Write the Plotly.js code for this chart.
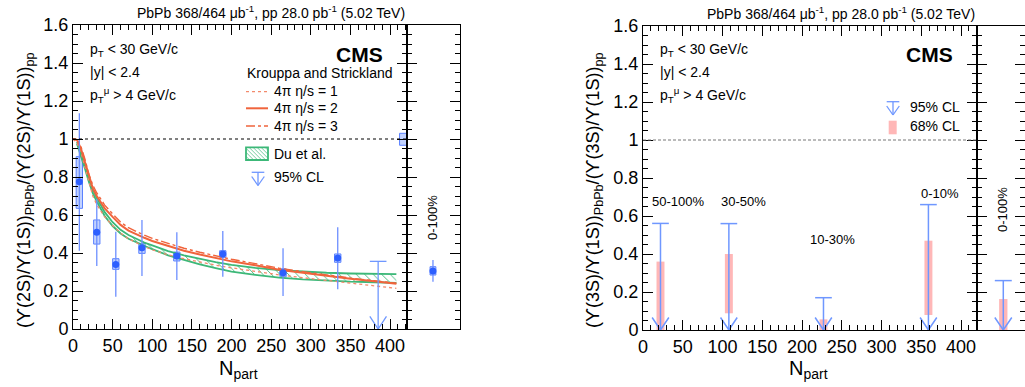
<!DOCTYPE html>
<html><head><meta charset="utf-8">
<script src="https://cdn.plot.ly/plotly-3.0.1.min.js"></script>
<style>body{margin:0;background:#fff}</style>
</head><body><div id="chart" style="width:1025px;height:387px"></div>
<script>
// ---------- Left panel: (Y(2S)/Y(1S))_PbPb / (Y(2S)/Y(1S))_pp vs Npart ----------
const npart2S   = [8, 30, 54, 87, 131, 189, 265, 334];
const ratio2S   = [0.775, 0.509, 0.340, 0.428, 0.384, 0.395, 0.296, 0.374];
const stat2SUp  = [1.135, 0.684, 0.512, 0.574, 0.509, 0.516, 0.425, 0.535];
const stat2SLo  = [0.412, 0.332, 0.170, 0.279, 0.258, 0.275, 0.174, 0.209];
const syst2SUp  = [0.907, 0.574, 0.370, 0.451, 0.405, 0.412, 0.317, 0.395];
const syst2SLo  = [0.635, 0.447, 0.314, 0.398, 0.358, 0.377, 0.275, 0.351];
const limit2SNpart = [385];
const limit2S95    = [0.356];
// integrated 0-100 %
const int2S       = [0.305];
const int2SStatUp = [0.363];
const int2SStatLo = [0.249];
const int2SSystUp = [0.328];
const int2SSystLo = [0.284];
// global (pp) uncertainty at unity
const globalUncLo = [0.967];
const globalUncHi = [1.030];

// Krouppa and Strickland
const ksNpart = [0,5,10,15,20,25,30,40,50,60,70,80,90,100,120,140,160,180,200,230,260,290,320,350,380,408];
const ksEta1  = [1.0,0.98,0.93,0.85,0.77,0.70,0.655,0.59,0.545,0.505,0.475,0.452,0.433,0.417,0.39,0.37,0.352,0.336,0.322,0.303,0.285,0.27,0.255,0.241,0.228,0.214];
const ksEta2  = [1.0,0.995,0.95,0.88,0.80,0.74,0.70,0.635,0.59,0.548,0.518,0.497,0.480,0.463,0.436,0.412,0.392,0.374,0.356,0.335,0.312,0.296,0.279,0.264,0.251,0.238];
const ksEta3  = [1.0,0.997,0.96,0.895,0.815,0.757,0.716,0.652,0.606,0.563,0.533,0.512,0.494,0.477,0.450,0.425,0.404,0.385,0.367,0.344,0.320,0.302,0.284,0.268,0.254,0.241];
// Du et al. band
const duNpart = [5,10,15,20,25,30,40,50,60,70,80,90,100,120,140,160,180,200,230,260,290,320,350,380,408];
const duUpper = [0.985,0.93,0.86,0.79,0.735,0.69,0.615,0.562,0.522,0.495,0.475,0.455,0.44,0.41,0.388,0.368,0.352,0.338,0.322,0.31,0.302,0.296,0.292,0.29,0.289];
const duLower = [0.975,0.915,0.845,0.775,0.715,0.67,0.595,0.542,0.503,0.475,0.457,0.437,0.42,0.388,0.362,0.34,0.321,0.302,0.285,0.27,0.261,0.254,0.249,0.246,0.243];

// ---------- Right panel: Y(3S) double ratio upper limits ----------
const npart3S    = [22, 108, 227, 359];
const cent3S     = ['50-100%', '30-50%', '10-30%', '0-10%'];
const limit3S95  = [0.561, 0.560, 0.170, 0.660];
const cl68Lo3S   = [0.0, 0.088, 0.0, 0.079];
const cl68Hi3S   = [0.360, 0.400, 0.056, 0.470];
const int3S95    = [0.260];
const int3S68Lo  = [0.0];
const int3S68Hi  = [0.163];

// ---------- styling / layout helpers ----------
const W = 1025, H = 387;
const P = x => x / W, Q = y => 1 - y / H;
const FONT = 'Liberation Sans, Arial, sans-serif';
const BLUE = '#2d5fff', BLUE_ERR = '#6d8fff', BLUE_LIM = '#6f97ff';
const ORANGE = '#f0643c', GREEN = '#3cb878', PINK = 'rgba(255,170,170,0.85)';
const sideX = [0.49];

function limitPath(xs, lims, dx, h) {
  const X = [], Y = [];
  xs.forEach((x, i) => {
    const L = lims[i];
    X.push(x - dx, x + dx, null, x, x, null, x - dx, x, x + dx, null);
    Y.push(L, L, null, L, 0, null, h, 0, h, null);
  });
  return {x: X, y: Y};
}
const diff = (a, b) => a.map((v, i) => v - b[i]);

const traces = [];
// Du et al. band
traces.push({x: duNpart, y: duLower, mode: 'lines', line: {color: GREEN, width: 1.8}, xaxis: 'x', yaxis: 'y', hoverinfo: 'skip'});
traces.push({x: duNpart, y: duUpper, mode: 'lines', line: {color: GREEN, width: 1.8}, fill: 'tonexty',
  fillcolor: 'rgba(255,255,255,0)',
  fillpattern: {shape: '\\', fgcolor: GREEN, bgcolor: 'rgba(255,255,255,0)', size: 6, solidity: 0.15},
  xaxis: 'x', yaxis: 'y', hoverinfo: 'skip'});
// KS curves
traces.push({x: ksNpart, y: ksEta1, mode: 'lines', line: {color: '#f38a6c', width: 1.3, dash: 'dot'}, xaxis: 'x', yaxis: 'y'});
traces.push({x: ksNpart, y: ksEta3, mode: 'lines', line: {color: ORANGE, width: 1.4, dash: 'dashdot'}, xaxis: 'x', yaxis: 'y'});
traces.push({x: ksNpart, y: ksEta2, mode: 'lines', line: {color: ORANGE, width: 2}, xaxis: 'x', yaxis: 'y'});
// systematic boxes
traces.push({type: 'bar', x: npart2S, base: syst2SLo, y: diff(syst2SUp, syst2SLo), width: 8,
  marker: {color: 'rgba(120,155,255,0.45)', line: {color: '#5b82ff', width: 1}}, xaxis: 'x', yaxis: 'y'});
traces.push({type: 'bar', x: [416.5], base: globalUncLo, y: diff(globalUncHi, globalUncLo), width: 9,
  marker: {color: 'rgba(120,155,255,0.45)', line: {color: '#5b82ff', width: 1}}, xaxis: 'x', yaxis: 'y'});
// points
traces.push({x: npart2S, y: ratio2S, mode: 'markers', marker: {color: BLUE, size: 7},
  error_y: {type: 'data', symmetric: false, array: diff(stat2SUp, ratio2S), arrayminus: diff(ratio2S, stat2SLo), color: BLUE_ERR, thickness: 1.3, width: 0},
  xaxis: 'x', yaxis: 'y'});
// upper limit
const lp = limitPath(limit2SNpart, limit2S95, 10.5, 0.066);
traces.push({x: lp.x, y: lp.y, mode: 'lines', line: {color: BLUE_LIM, width: 1.3}, xaxis: 'x', yaxis: 'y'});
// integrated point (side)
traces.push({type: 'bar', x: sideX, base: int2SSystLo, y: diff(int2SSystUp, int2SSystLo), width: 0.11,
  marker: {color: 'rgba(120,155,255,0.45)', line: {color: '#5b82ff', width: 1}}, xaxis: 'x2', yaxis: 'y2'});
traces.push({x: sideX, y: int2S, mode: 'markers', marker: {color: BLUE, size: 7},
  error_y: {type: 'data', symmetric: false, array: diff(int2SStatUp, int2S), arrayminus: diff(int2S, int2SStatLo), color: BLUE_ERR, thickness: 1.3, width: 0},
  xaxis: 'x2', yaxis: 'y2'});

// right panel
traces.push({type: 'bar', x: npart3S, base: cl68Lo3S, y: diff(cl68Hi3S, cl68Lo3S), width: 10,
  marker: {color: PINK, line: {width: 0}}, xaxis: 'x3', yaxis: 'y3'});
const lp3 = limitPath(npart3S, limit3S95, 10.5, 0.066);
traces.push({x: lp3.x, y: lp3.y, mode: 'lines', line: {color: BLUE_LIM, width: 1.5}, xaxis: 'x3', yaxis: 'y3'});
const sideX3 = [0.496];
traces.push({type: 'bar', x: sideX3, base: int3S68Lo, y: diff(int3S68Hi, int3S68Lo), width: 0.157,
  marker: {color: PINK, line: {width: 0}}, xaxis: 'x4', yaxis: 'y4'});
const lp4 = limitPath(sideX3, int3S95, 0.16, 0.066);
traces.push({x: lp4.x, y: lp4.y, mode: 'lines', line: {color: BLUE_LIM, width: 1.5}, xaxis: 'x4', yaxis: 'y4'});

// ---------- axes ----------
const tickFont = {family: FONT, size: 18, color: '#000'};
function mainX(dom, range, anchor) {
  return {domain: dom, range: range, anchor: anchor, tick0: 0, dtick: 50, ticks: 'inside', ticklen: 10, tickcolor: '#000',
    minor: {dtick: 10, ticks: 'inside', ticklen: 5, tickcolor: '#000'},
    showline: true, linecolor: '#000', linewidth: 1, mirror: 'ticks', showgrid: false, zeroline: false, tickfont: tickFont};
}
function mainY(dom, anchor, labels) {
  return {domain: dom, range: [0, 1.6], anchor: anchor, tick0: 0, dtick: 0.2, ticks: 'inside', ticklen: 10, tickcolor: '#000',
    minor: {dtick: 0.05, ticks: 'inside', ticklen: 5, tickcolor: '#000'},
    showline: true, linecolor: '#000', linewidth: 1, mirror: 'ticks', showgrid: false, zeroline: false,
    showticklabels: labels, tickfont: tickFont};
}
function sideXAx(dom, range, anchor) {
  return {domain: dom, range: range, anchor: anchor, showticklabels: false, ticks: '', showline: true, linecolor: '#000',
    linewidth: 1, mirror: true, showgrid: false, zeroline: false};
}
const yDomL = [1 - 329 / H, 1 - 25 / H];
const yDomR = [1 - 330 / H, 1 - 26 / H];

// ---------- shapes ----------
const shapes = [
  {type: 'line', xref: 'x', yref: 'y', x0: 0, x1: 421.4, y0: 1, y1: 1, line: {color: '#000', width: 1, dash: '3px,3px'}},
  {type: 'line', xref: 'x3', yref: 'y3', x0: 0, x1: 420, y0: 1, y1: 1, line: {color: '#777', width: 1, dash: '3px,2px'}},
];
// left legend line samples
[[91.7, 'dot', '#f38a6c'], [108.3, 'solid', ORANGE], [126, 'dashdot', ORANGE]].forEach(([y, d, c]) => {
  shapes.push({type: 'line', xref: 'paper', yref: 'paper', x0: P(246), x1: P(268), y0: Q(y), y1: Q(y), line: {color: c, width: d === 'solid' ? 2 : 1.3, dash: d}});
});
// Du et al. legend box with hatch
const bx0 = 246, bx1 = 268, by0 = 147.3, by1 = 160;
shapes.push({type: 'rect', xref: 'paper', yref: 'paper', x0: P(bx0), x1: P(bx1), y0: Q(by0), y1: Q(by1), line: {color: GREEN, width: 1.8}, fillcolor: 'rgba(0,0,0,0)'});
for (let a = bx0 - 13; a < bx1; a += 4) {
  const hgt = by1 - by0;
  const s = Math.max(0, bx0 - a), e = Math.min(hgt, bx1 - a);
  if (s < e) shapes.push({type: 'line', xref: 'paper', yref: 'paper', x0: P(a + s), y0: Q(by0 + s), x1: P(a + e), y1: Q(by0 + e), line: {color: GREEN, width: 0.7}});
}
function legendArrow(cx, top, tip, dx) {
  const hs = [];
  const L = {color: BLUE_LIM, width: 1.3};
  hs.push({type: 'line', xref: 'paper', yref: 'paper', x0: P(cx - dx), x1: P(cx + dx), y0: Q(top), y1: Q(top), line: L});
  hs.push({type: 'line', xref: 'paper', yref: 'paper', x0: P(cx), x1: P(cx), y0: Q(top), y1: Q(tip), line: L});
  hs.push({type: 'line', xref: 'paper', yref: 'paper', x0: P(cx - dx), x1: P(cx), y0: Q(tip - 9), y1: Q(tip), line: L});
  hs.push({type: 'line', xref: 'paper', yref: 'paper', x0: P(cx + dx), x1: P(cx), y0: Q(tip - 9), y1: Q(tip), line: L});
  return hs;
}
shapes.push(...legendArrow(258, 172.3, 185.5, 6.3));
shapes.push(...legendArrow(893, 101.7, 115, 6.3));
shapes.push({type: 'rect', xref: 'paper', yref: 'paper', x0: P(888.7), x1: P(896.7), y0: Q(120.7), y1: Q(134.3), line: {width: 0}, fillcolor: PINK});

// ---------- annotations ----------
const ann = [];
function txt(x, y, text, opts = {}) {
  ann.push(Object.assign({xref: 'paper', yref: 'paper', x: P(x), y: Q(y), text: text, showarrow: false,
    xanchor: 'left', yanchor: 'middle', font: {family: FONT, size: 14, color: '#000'}}, opts));
}
const lumi = 'PbPb 368/464 μb<sup>-1</sup>, pp 28.0 pb<sup>-1</sup> (5.02 TeV)';
txt(407, 12, lumi, {xanchor: 'right'});
txt(977, 13, lumi, {xanchor: 'right'});
[[88, 0], [658, 1]].forEach(([x0]) => {
  txt(x0, 50, 'p<sub>T</sub> < 30 GeV/c');
  txt(x0, 72, '|y| < 2.4');
  txt(x0, 95, 'p<sub>T</sub><sup>μ</sup> > 4 GeV/c');
});
txt(385, 54, '<b>CMS</b>', {xanchor: 'right', font: {family: FONT, size: 21, color: '#000'}});
txt(955, 54, '<b>CMS</b>', {xanchor: 'right', font: {family: FONT, size: 21, color: '#000'}});
txt(245, 72.5, 'Krouppa and Strickland');
txt(272, 91, '4π η/s = 1');
txt(272, 108.5, '4π η/s = 2');
txt(272, 126, '4π η/s = 3');
txt(272, 154, 'Du et al.');
txt(272, 177, '95% CL');
txt(908, 107, '95% CL');
txt(908, 126, '68% CL');
// rotated side labels
txt(432, 218, '0-100%', {xanchor: 'center', textangle: -90, font: {family: FONT, size: 13, color: '#000'}});
txt(1002, 210, '0-100%', {xanchor: 'center', textangle: -90, font: {family: FONT, size: 13, color: '#000'}});
// centrality labels (right panel) positioned in data coordinates
const centPos = [[44, 0.675], [127, 0.675], [238, 0.477], [373, 0.72]];
cent3S.forEach((c, i) => ann.push({xref: 'x3', yref: 'y3', x: centPos[i][0], y: centPos[i][1], text: c, showarrow: false,
  xanchor: 'center', yanchor: 'middle', font: {family: FONT, size: 13, color: '#000'}}));
// axis titles
txt(238, 369, 'N<sub>part</sub>', {xanchor: 'center', font: {family: FONT, size: 20, color: '#000'}});
txt(808, 369, 'N<sub>part</sub>', {xanchor: 'center', font: {family: FONT, size: 20, color: '#000'}});
txt(25, 191, '(ϒ(2S)/ϒ(1S))<sub>PbPb</sub>/(ϒ(2S)/ϒ(1S))<sub>pp</sub>', {xanchor: 'center', textangle: -90, font: {family: FONT, size: 18, color: '#000'}});
txt(594, 191, '(ϒ(3S)/ϒ(1S))<sub>PbPb</sub>/(ϒ(3S)/ϒ(1S))<sub>pp</sub>', {xanchor: 'center', textangle: -90, font: {family: FONT, size: 18, color: '#000'}});

const layout = {
  width: W, height: H, margin: {l: 0, r: 0, t: 0, b: 0}, paper_bgcolor: '#fff', plot_bgcolor: 'rgba(0,0,0,0)',
  showlegend: false, barmode: 'overlay', hovermode: false, font: {family: FONT, color: '#000'},
  xaxis: mainX([73 / W, 407 / W], [0, 421.4], 'y'),
  yaxis: mainY(yDomL, 'x', true),
  xaxis2: sideXAx([407 / W, 460 / W], [0, 1], 'y2'),
  yaxis2: mainY(yDomL, 'x2', false),
  xaxis3: mainX([643 / W, 977 / W], [0, 420.1], 'y3'),
  yaxis3: mainY(yDomR, 'x3', true),
  xaxis4: sideXAx([977 / W, 1], [0, 48 / 53], 'y4'),
  yaxis4: mainY(yDomR, 'x4', false),
  shapes: shapes, annotations: ann
};
Plotly.newPlot('chart', traces, layout, {staticPlot: true, displayModeBar: false});
</script></body></html>
